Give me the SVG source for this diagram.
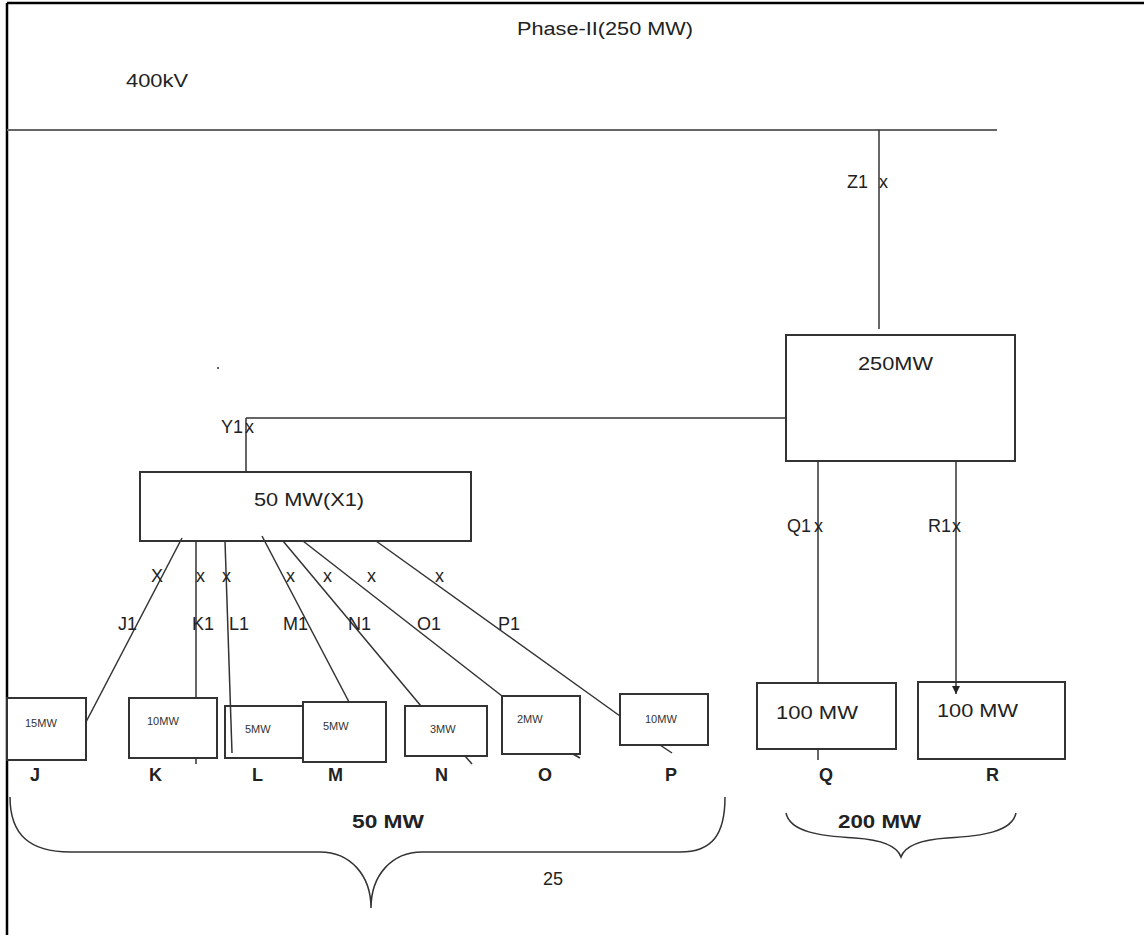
<svg xmlns="http://www.w3.org/2000/svg" width="1144" height="935" viewBox="0 0 1144 935">
<style>
text{font-family:"Liberation Sans",Arial,sans-serif;fill:#222}
.t{font-size:18px}
.s{font-size:11px;fill:#333}
.b{font-size:18px;font-weight:bold}
.box{fill:#fff;stroke:#333;stroke-width:2}
.ln{stroke:#333;stroke-width:1.5;fill:none}
.br{stroke:#333;stroke-width:1.5;fill:none}
</style>
<defs>
<marker id="arr" viewBox="0 0 10 10" refX="10" refY="5" markerWidth="8" markerHeight="8" markerUnits="userSpaceOnUse" orient="auto"><path d="M0,0 L10,5 L0,10 z" fill="#222"/></marker>
</defs>
<rect width="1144" height="935" fill="#fff"/>
<g id="frame">
<line x1="7" y1="3" x2="1144" y2="3" stroke="#000" stroke-width="2.5"/>
<line x1="7" y1="3" x2="7" y2="935" stroke="#000" stroke-width="2.5"/>
</g>
<g id="titles">
<text class="t" x="517" y="35" textLength="176" lengthAdjust="spacingAndGlyphs">Phase-II(250 MW)</text>
<text class="t" x="126" y="87" textLength="62" lengthAdjust="spacingAndGlyphs">400kV</text>
<circle cx="218" cy="368" r="1" fill="#333"/>
</g>
<g id="bus">
<line x1="7" y1="130" x2="997" y2="130" stroke="#666" stroke-width="2"/>
</g>
<g id="node-250">
<rect class="box" x="786" y="335" width="229" height="126"/>
<text class="t" x="858" y="370" textLength="75" lengthAdjust="spacingAndGlyphs">250MW</text>
</g>
<g id="node-x1">
<rect class="box" x="140" y="472" width="331" height="69"/>
<text class="t" x="254" y="506" textLength="110" lengthAdjust="spacingAndGlyphs">50 MW(X1)</text>
</g>
<g id="node-j">
<rect class="box" x="7" y="698" width="79" height="62"/>
<text class="s" x="25" y="727">15MW</text>
</g>
<g id="node-k">
<rect class="box" x="129" y="698" width="88" height="60"/>
<text class="s" x="147" y="725">10MW</text>
</g>
<g id="node-l">
<rect class="box" x="225" y="706" width="90" height="52"/>
<text class="s" x="245" y="733">5MW</text>
<line class="ln" x1="225" y1="541" x2="232" y2="753"/>
</g>
<g id="node-m">
<rect class="box" x="303" y="702" width="83" height="60"/>
<text class="s" x="323" y="730">5MW</text>
</g>
<g id="node-n">
<rect class="box" x="405" y="706" width="82" height="50"/>
<text class="s" x="430" y="733">3MW</text>
</g>
<g id="node-o">
<rect class="box" x="502" y="696" width="78" height="58"/>
<text class="s" x="517" y="723">2MW</text>
</g>
<g id="node-p">
<rect class="box" x="620" y="694" width="88" height="51"/>
<text class="s" x="645" y="723">10MW</text>
</g>
<g id="node-q">
<rect class="box" x="757" y="683" width="139" height="66"/>
<text class="t" x="776" y="719" textLength="82" lengthAdjust="spacingAndGlyphs">100 MW</text>
</g>
<g id="node-r">
<rect class="box" x="918" y="682" width="147" height="77"/>
<text class="t" x="937" y="717" textLength="81" lengthAdjust="spacingAndGlyphs">100 MW</text>
</g>
<g id="connectors">
<line class="ln" x1="879" y1="130" x2="879" y2="329"/>
<line class="ln" x1="786" y1="418" x2="246" y2="418"/>
<line class="ln" x1="246" y1="418" x2="246" y2="472"/>
<line class="ln" x1="818" y1="461" x2="818" y2="683"/>
<line class="ln" x1="818" y1="749" x2="818" y2="760"/>
<line class="ln" x1="956" y1="461" x2="956" y2="694" marker-end="url(#arr)"/>
<line class="ln" x1="182" y1="538" x2="86" y2="722"/>
<line class="ln" x1="196" y1="541" x2="196" y2="698"/>
<line class="ln" x1="196" y1="758" x2="196" y2="764"/>
<line class="ln" x1="262" y1="536" x2="349" y2="702"/>
<line class="ln" x1="283" y1="541" x2="421" y2="706"/>
<line class="ln" x1="303" y1="541" x2="502" y2="696"/>
<line class="ln" x1="376" y1="541" x2="620" y2="716"/>
<line class="ln" x1="465" y1="756" x2="472" y2="764"/>
<line class="ln" x1="573" y1="754" x2="580" y2="758"/>
<line class="ln" x1="660" y1="745" x2="672" y2="753"/>
</g>
<g id="labels">
<text class="t" x="847" y="188">Z1</text><text class="t" x="879" y="188">x</text>
<text class="t" x="221" y="433">Y1</text><text class="t" x="245" y="433">x</text>
<text class="t" x="787" y="532">Q1</text><text class="t" x="814" y="532">x</text>
<text class="t" x="928" y="532">R1</text><text class="t" x="952" y="532">x</text>
<text class="t" x="151" y="582">X</text>
<text class="t" x="196" y="582">x</text>
<text class="t" x="222" y="582">x</text>
<text class="t" x="286" y="582">x</text>
<text class="t" x="323" y="582">x</text>
<text class="t" x="367" y="582">x</text>
<text class="t" x="435" y="582">x</text>
<text class="t" x="118" y="630">J1</text>
<text class="t" x="192" y="630">K1</text>
<text class="t" x="229" y="630">L1</text>
<text class="t" x="283" y="630">M1</text>
<text class="t" x="348" y="630">N1</text>
<text class="t" x="417" y="630">O1</text>
<text class="t" x="498" y="630">P1</text>
<text class="b" x="30" y="781">J</text>
<text class="b" x="149" y="781">K</text>
<text class="b" x="252" y="781">L</text>
<text class="b" x="328" y="781">M</text>
<text class="b" x="435" y="781">N</text>
<text class="b" x="538" y="781">O</text>
<text class="b" x="665" y="781">P</text>
<text class="b" x="819" y="781">Q</text>
<text class="b" x="986" y="781">R</text>
</g>
<g id="braces">
<path class="br" d="M10,797 C10,835 30,852 70,852 L320,852 C350,852 371,875 371,908 C371,875 392,852 422,852 L680,852 C712,852 725,835 725,797"/>
<text class="b" x="352" y="828" textLength="72" lengthAdjust="spacingAndGlyphs">50 MW</text>
<text class="t" x="543" y="885">25</text>
<path class="br" d="M786,813 C790,832 820,836 855,838 C885,840 898,848 901,857 C904,848 917,840 947,838 C982,836 1012,832 1016,813"/>
<text class="b" x="838" y="828" textLength="83" lengthAdjust="spacingAndGlyphs">200 MW</text>
</g>
</svg>
